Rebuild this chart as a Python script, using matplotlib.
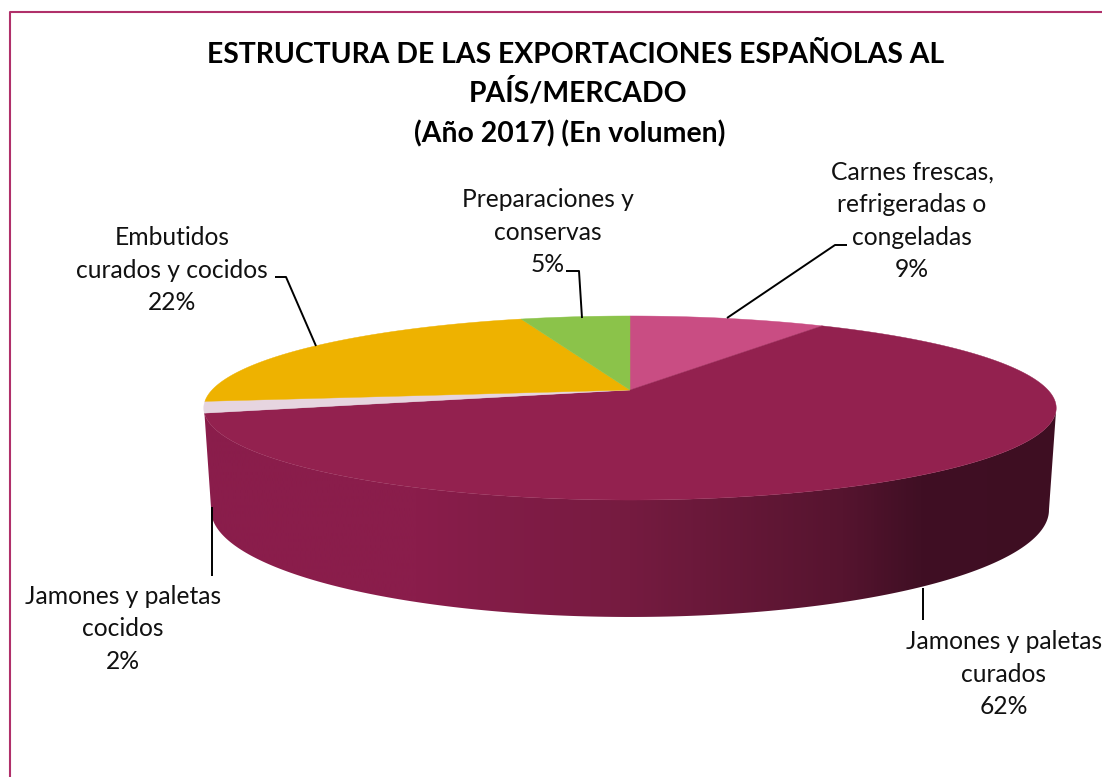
#!/usr/bin/env python3
"""Export structure pie, drawn by hand as a 3D perspective disc."""

import numpy as np
import matplotlib
matplotlib.use("Agg")
import matplotlib.pyplot as plt
from matplotlib.colors import LinearSegmentedColormap
from matplotlib.patches import Polygon

TITLE_LINES = ["ESTRUCTURA DE LAS EXPORTACIONES ESPAÑOLAS AL",
               "PAÍS/MERCADO",
               "(Año 2017) (En volumen)"]
TITLE_POS = [(576, 55), (578, 92), (570, 134)]

# clockwise from 12 o'clock
CATEGORIES = ["Carnes frescas,\nrefrigeradas o\ncongeladas",
              "Jamones y paletas\ncurados",
              "Jamones y paletas\ncocidos",
              "Embutidos\ncurados y cocidos",
              "Preparaciones y\nconservas"]
VALUES = [9, 62, 2, 22, 5]
COLORS = ["#c94d83", "#93214f", "#e6d5e0", "#eeb200", "#8bc34a"]

# label centre positions, px
LABEL_POS = [(912, 221), (1004, 674), (123, 629), (172, 270), (548, 232)]

# leader lines, px
LEADERS = [
    [(727, 318), (835, 245), (847, 245)],
    [(923, 588), (923, 620)],
    [(212, 507), (212, 576)],
    [(316, 346), (286, 277), (275, 277)],
    [(582, 318), (579, 271), (566, 271)],
]

plt.rcParams["font.family"] = ["Lato", "DejaVu Sans"]

CX = 630


def top_rim(t):
    # perspective circle, top face of the disc
    k = 0.1956
    d = 1 + k * np.cos(t)
    return CX + 418 * np.sin(t) / d, 390 - 88.5 * np.cos(t) / d


def bottom_rim(t):
    k = 0.2
    d = 1 + k * np.cos(t)
    return CX + 410.5 * np.sin(t) / d, 488.6 - 102.7 * np.cos(t) / d


fig = plt.figure(figsize=(11.02, 7.77), dpi=100)
ax = fig.add_axes([0, 0, 1, 1])
ax.set_xlim(0, 1102)
ax.set_ylim(777, 0)
ax.axis("off")

# chart border, only top and left fall inside the crop
ax.plot([10, 10, 1102], [777, 12, 12], color="#b0306a", lw=1.5)

# side wall, shaded left to right
edges = np.cumsum([0] + VALUES) / sum(VALUES) * 2 * np.pi
t_front = np.linspace(np.pi / 2 + 0.2, edges[2], 200)
xt, yt = top_rim(t_front)
xb, yb = bottom_rim(t_front[::-1])
wall = Polygon(np.column_stack([np.r_[xt, xb], np.r_[yt, yb]]), closed=True,
               facecolor="none", edgecolor="none")
ax.add_patch(wall)
cmap = LinearSegmentedColormap.from_list("wall", [
    (0.0, "#8a1d4b"), (0.25, "#8a1d4b"), (0.5, "#751b40"),
    (0.75, "#56142f"), (0.84, "#400f24"), (1.0, "#3e0e22")])
img = ax.imshow(np.linspace(0, 1, 512)[None, :], cmap=cmap, aspect="auto",
                extent=(204, 1057, 777, 0), interpolation="bilinear")
img.set_clip_path(wall)
ax.set_xlim(0, 1102)
ax.set_ylim(777, 0)

# top face slices
for start, end, color in zip(edges[:-1], edges[1:], COLORS):
    t = np.linspace(start, end, 200)
    x, y = top_rim(t)
    ax.add_patch(Polygon(np.column_stack([np.r_[CX, x], np.r_[390, y]]), closed=True,
                         facecolor=color, edgecolor=color, lw=0.3))

for pts in LEADERS:
    xs, ys = zip(*pts)
    ax.plot(xs, ys, color="black", lw=1.4, solid_capstyle="butt")

for name, val, (lx, ly) in zip(CATEGORIES, VALUES, LABEL_POS):
    ax.text(lx, ly, f"{name}\n{val}%", ha="center", va="center", fontsize=17.7,
            color="#111111", linespacing=1.5)

for line, (tx, ty) in zip(TITLE_LINES, TITLE_POS):
    ax.text(tx, ty, line, ha="center", va="center", fontsize=20.4, fontweight="bold",
            color="black")

fig.savefig("out.png", dpi=100)
